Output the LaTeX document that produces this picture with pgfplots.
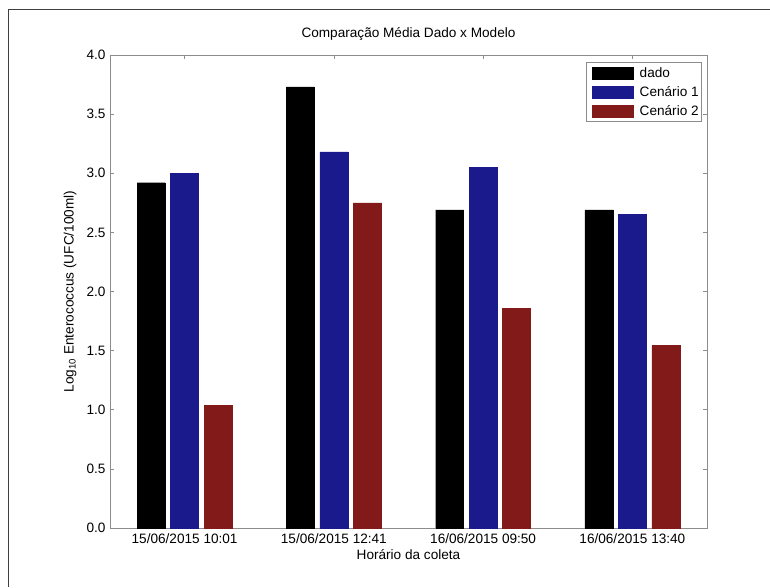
\documentclass[border=0pt]{standalone}
\usepackage{pgfplots}
\pgfplotsset{compat=1.18}
\usepackage{fontspec}
\setmainfont{Liberation Sans}
\definecolor{cblue}{RGB}{26,26,140}
\definecolor{cred}{RGB}{130,26,26}
\definecolor{axgray}{RGB}{140,140,140}
\begin{document}
\begin{tikzpicture}
\path[use as bounding box] (0,0) rectangle (770pt,587pt);
\draw[line width=1pt, black!75] (8pt,0) -- (8pt,577pt) -- (770pt,577pt);
\begin{axis}[
  at={(110pt,59pt)}, anchor=south west,
  scale only axis, width=597pt, height=473pt,
  font=\fontsize{13.6}{16}\selectfont,
  xmin=0.5, xmax=4.5, ymin=0, ymax=4,
  xtick={1,2,3,4},
  xticklabels={15/06/2015 10:01,15/06/2015 12:41,16/06/2015 09:50,16/06/2015 13:40},
  ytick={0,0.5,...,4},
  yticklabel style={xshift=-1pt, /pgf/number format/fixed, /pgf/number format/fixed zerofill, /pgf/number format/precision=1, /pgf/number format/assume math mode=true},
  tick align=inside, major tick length=4pt,
  axis line style={axgray, line width=0.8pt},
  tick style={axgray, line width=0.6pt},
  title={Comparação Média Dado x Modelo},
  title style={at={(axis description cs:0.5,1.032)}, anchor=center},
  xlabel={Horário da coleta},
  xlabel style={at={(axis description cs:0.5,-0.057)}, anchor=center},
  ylabel={Log$_{\mathrm{10}}$ Enterococcus (UFC/100ml)},
  ylabel style={at={(axis description cs:-0.067,0.5)}, anchor=center, rotate=0},
  xticklabel style={yshift=-2pt},
  legend style={at={(axis description cs:0.9916,0.985)}, anchor=north east,
    draw=axgray, line width=0.6pt, font=\fontsize{13.6}{16}\selectfont,
    row sep=3.5pt, inner xsep=1pt, inner ysep=3pt, cells={anchor=west}},
  legend image code/.code={\fill[#1] (0pt,-6pt) rectangle (41pt,6pt);\path (-5pt,0pt) (45pt,0pt);},
]
\addplot[ybar, fill=black, draw=black, bar width=0.187, bar shift=-0.224]
  coordinates {(1,2.92) (2,3.73) (3,2.69) (4,2.69)};
\addlegendentry{dado}
\addplot[ybar, fill=cblue, draw=cblue, bar width=0.187, bar shift=0]
  coordinates {(1,3.00) (2,3.18) (3,3.05) (4,2.65)};
\addlegendentry{Cenário 1}
\addplot[ybar, fill=cred, draw=cred, bar width=0.187, bar shift=0.224]
  coordinates {(1,1.04) (2,2.75) (3,1.86) (4,1.545)};
\addlegendentry{Cenário 2}
\end{axis}
\end{tikzpicture}
\end{document}
